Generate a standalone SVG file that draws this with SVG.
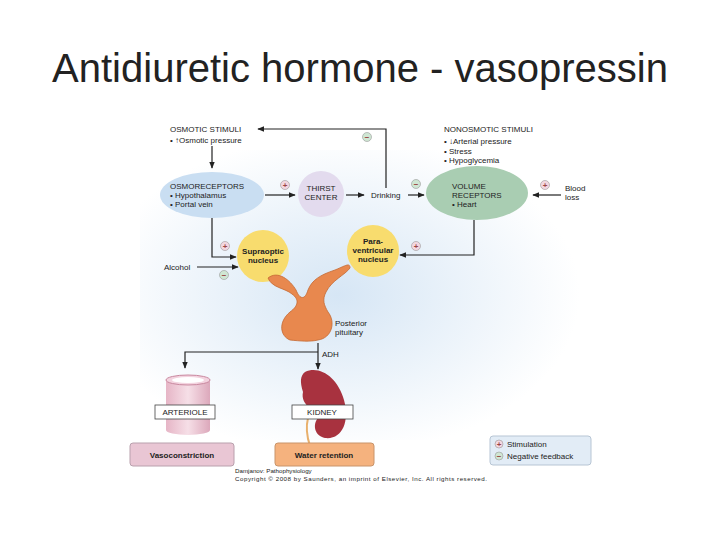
<svg xmlns="http://www.w3.org/2000/svg" width="720" height="540" viewBox="0 0 720 540">
<style>
text{font-family:"Liberation Sans",Arial,sans-serif;fill:#222}
.s{font-size:8px}
.b{font-size:8px;font-weight:bold}
.ln{fill:none;stroke:#222;stroke-width:1.2}
.sg circle{stroke:#999;stroke-width:0.6}
.p{fill:#f3d7e0}.m{fill:#cfe6d3}
.sg text{font-size:8px;font-weight:bold;text-anchor:middle;fill:#944}
</style>
<defs>
<marker id="a" viewBox="0 0 10 10" refX="9" refY="5" markerWidth="6" markerHeight="6" orient="auto"><path d="M0,1L10,5L0,9z" fill="#222"/></marker>
<radialGradient id="bg" cx="0.45" cy="0.5" r="0.55"><stop offset="0" stop-color="#d6e6f5"/><stop offset="1" stop-color="#ffffff"/></radialGradient>
<linearGradient id="cyl" x1="0" x2="1"><stop offset="0" stop-color="#e6b5c6"/><stop offset="0.5" stop-color="#f6dfe7"/><stop offset="1" stop-color="#dca8bb"/></linearGradient>
</defs>
<rect width="720" height="540" fill="#fff"/>
<rect x="140" y="150" width="440" height="290" fill="url(#bg)"/>
<text x="360" y="82" font-size="40" text-anchor="middle">Antidiuretic hormone - vasopressin</text>

<g id="osmotic"><text class="s" x="170" y="132">OSMOTIC STIMULI</text><text class="s" x="170" y="143">• ↑Osmotic pressure</text></g>
<g id="nonosmotic"><text class="s" x="444" y="132">NONOSMOTIC STIMULI</text><text class="s" x="444" y="144">• ↓Arterial pressure</text><text class="s" x="444" y="154">• Stress</text><text class="s" x="444" y="163">• Hypoglycemia</text></g>
<g id="osmoreceptors"><ellipse cx="212" cy="195" rx="52" ry="23" fill="#c9def2"/><text class="s" x="170" y="189">OSMORECEPTORS</text><text class="s" x="170" y="198">• Hypothalamus</text><text class="s" x="170" y="207">• Portal vein</text></g>
<g id="thirst"><circle cx="321" cy="194" r="23" fill="#e3dbee"/><text class="s" x="321" y="191" text-anchor="middle">THIRST</text><text class="s" x="321" y="200" text-anchor="middle">CENTER</text></g>
<g id="drinking"><text class="s" x="371" y="198">Drinking</text></g>
<g id="volume"><ellipse cx="477" cy="193" rx="51" ry="27" fill="#a9cdb2"/><text class="s" x="452" y="189">VOLUME</text><text class="s" x="452" y="198">RECEPTORS</text><text class="s" x="452" y="207">• Heart</text></g>
<g id="bloodloss"><text class="s" x="565" y="191">Blood</text><text class="s" x="565" y="200">loss</text></g>
<g id="supraoptic"><circle cx="263" cy="256" r="26" fill="#f8dc6e"/><text class="b" x="263" y="254" text-anchor="middle">Supraoptic</text><text class="b" x="263" y="263" text-anchor="middle">nucleus</text></g>
<g id="paraventricular"><circle cx="373" cy="251" r="26" fill="#f8dc6e"/><text class="b" x="373" y="244" text-anchor="middle">Para-</text><text class="b" x="373" y="253" text-anchor="middle">ventricular</text><text class="b" x="373" y="262" text-anchor="middle">nucleus</text></g>
<g id="alcohol"><text class="s" x="164" y="270">Alcohol</text></g>
<g id="pituitary">
<path d="M268,278 C278,270 290,280 296,290 C300,300 305,300 308,290 C312,280 320,275 335,270 C345,266 350,262 350,268 C345,275 332,280 326,292 C322,300 324,305 328,312 C336,322 332,338 318,340 C310,342 300,341 290,340 C280,336 278,322 290,312 C298,306 300,300 292,294 C285,288 272,288 268,278 Z" fill="#e8884e" stroke="#c46a34" stroke-width="0.8"/>
<text class="s" x="335" y="326">Posterior</text><text class="s" x="335" y="335">pituitary</text></g>
<g id="arteriole"><path d="M166,380 L166,430 A22,5 0 0 0 210,430 L210,380 Z" fill="url(#cyl)"/><ellipse cx="188" cy="380" rx="22" ry="5" fill="#f3d3df" stroke="#c9889f" stroke-width="1"/><ellipse cx="188" cy="380" rx="16" ry="3" fill="#fff"/>
<rect x="155" y="405" width="60" height="14" fill="#fff" stroke="#444" stroke-width="0.8"/><text class="s" x="185" y="415" text-anchor="middle">ARTERIOLE</text></g>
<g id="kidney"><path d="M305,372 C320,365 338,378 344,400 C350,422 342,440 325,438 C315,436 312,425 318,418 C315,410 300,405 303,392 C300,382 300,376 305,372 Z" fill="#a8323f"/><path d="M308,418 C305,430 308,440 310,446" stroke="#e8b06c" stroke-width="2" fill="none"/>
<rect x="292" y="405" width="61" height="14" fill="#fff" stroke="#444" stroke-width="0.8"/><text class="s" x="322" y="415" text-anchor="middle">KIDNEY</text></g>
<g id="vasoconstriction"><rect x="130" y="443" width="104" height="23" rx="3" fill="#e9c6d4" stroke="#b9a0ad"/><text class="b" x="182" y="458" text-anchor="middle">Vasoconstriction</text></g>
<g id="waterretention"><rect x="275" y="443" width="99" height="23" rx="3" fill="#f5b27e" stroke="#c9946a"/><text class="b" x="324" y="458" text-anchor="middle">Water retention</text></g>
<g id="legend"><rect x="490" y="436" width="101" height="29" rx="3" fill="#e2ecf6" stroke="#b7c5d4"/>
<g class="sg"><circle class="p" cx="499" cy="444" r="4"/><text x="499" y="447">+</text><circle class="m" cx="499" cy="456" r="4"/><text x="499" y="459" fill="#486">−</text></g>
<text class="s" x="507" y="447">Stimulation</text><text class="s" x="507" y="459">Negative feedback</text></g>
<g id="copyright"><text x="235" y="473" font-size="6.2">Damjanov: Pathophysiology</text><text x="235" y="481" font-size="6.2" textLength="252">Copyright © 2008 by Saunders, an imprint of Elsevier, Inc. All rights reserved.</text></g>

<g id="connectors" class="ln">
<path d="M212,146 V168" marker-end="url(#a)"/>
<path d="M265,195 H295" marker-end="url(#a)"/>
<path d="M346,195 H364" marker-end="url(#a)"/>
<path d="M408,195 H424" marker-end="url(#a)"/>
<path d="M386,188 V129 H258" marker-end="url(#a)"/>
<path d="M561,195 H533" marker-end="url(#a)"/>
<path d="M212,218 V257 H236" marker-end="url(#a)"/>
<path d="M197,267 H238" marker-end="url(#a)"/>
<path d="M474,220 V255 H400" marker-end="url(#a)"/>
<path d="M318,343 V369" marker-end="url(#a)"/>
<path d="M318,352 H185 V368" marker-end="url(#a)"/>
</g>
<g id="signs" class="sg">
<circle class="m" cx="367" cy="137" r="4.5"/><text x="367" y="140" fill="#486">−</text>
<circle class="p" cx="285" cy="185" r="4.5"/><text x="285" y="188">+</text>
<circle class="m" cx="416" cy="184" r="4.5"/><text x="416" y="187" fill="#486">−</text>
<circle class="p" cx="545" cy="185" r="4.5"/><text x="545" y="188">+</text>
<circle class="p" cx="225" cy="246" r="4.5"/><text x="225" y="249">+</text>
<circle class="m" cx="224" cy="275" r="4.5"/><text x="224" y="278" fill="#486">−</text>
<circle class="p" cx="416" cy="246" r="4.5"/><text x="416" y="249">+</text>
</g>
<text class="s" x="322" y="357">ADH</text>
</svg>
